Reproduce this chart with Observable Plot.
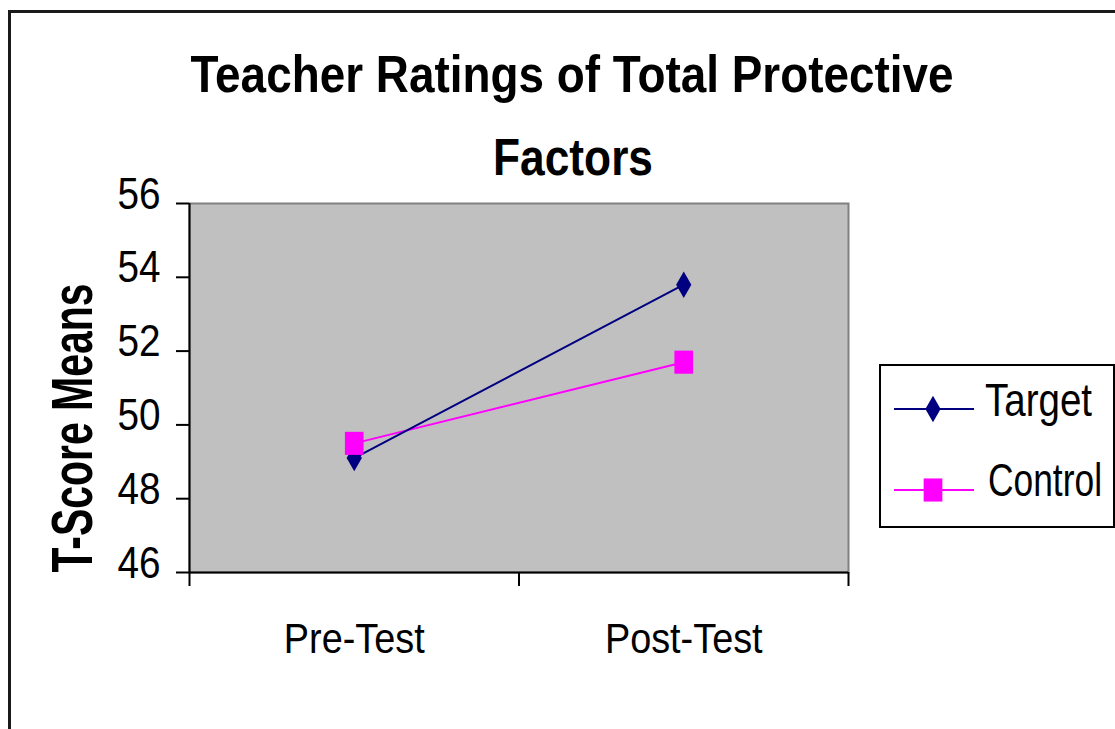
<!DOCTYPE html>
<html><head><meta charset="utf-8">
<script src="https://cdn.jsdelivr.net/npm/d3@7"></script>
<script src="https://cdn.jsdelivr.net/npm/@observablehq/plot@0.6"></script>
<style>
body{margin:0;background:#fff;}
#wrap{position:relative;width:1115px;height:729px;overflow:hidden;background:#fff;font-family:"Liberation Sans",Arial,sans-serif;}
.t{position:absolute;white-space:nowrap;color:#000;}
</style></head><body><div id="wrap"></div>
<script>
// ---- data ----
const titleLines = ["Teacher Ratings of Total Protective", "Factors"];
const yLabel = "T-Score Means";
const categories = ["Pre-Test", "Post-Test"];
const seriesNames = ["Target", "Control"];
const targetValues = [49.1, 53.8];
const controlValues = [49.5, 51.7];
const yTicks = [46, 48, 50, 52, 54, 56];
const seriesColors = ["#000080", "#ff00ff"];

const targetData = categories.map((c, i) => ({series: "Target", cat: c, idx: i, value: targetValues[i]}));
const controlData = categories.map((c, i) => ({series: "Control", cat: c, idx: i, value: controlValues[i]}));

const wrap = document.getElementById("wrap");

// tall rectangle marker like the original
const tallSquare = {draw(ctx, size) {
  const r = Math.sqrt(size / Math.PI);
  const w = r * 1.7, h = r * 2.1;
  ctx.moveTo(-w/2, -h/2); ctx.lineTo(w/2, -h/2); ctx.lineTo(w/2, h/2); ctx.lineTo(-w/2, h/2); ctx.closePath();
}};

const xPos = d => d.idx + 0.5;

const chart = Plot.plot({
  width: 1115, height: 729,
  marginLeft: 189, marginRight: 267, marginTop: 203, marginBottom: 157,
  style: {fontFamily: '"Liberation Sans", Arial, sans-serif', background: "transparent", overflow: "visible", color: "#000"},
  x: {type: "linear", domain: [0, categories.length], axis: null},
  y: {domain: [46, 56], axis: null},
  color: {domain: seriesNames, range: seriesColors},
  marks: [
    Plot.frame({fill: "#c0c0c0", stroke: "#808080", strokeWidth: 2}),
    Plot.axisY({ticks: yTicks, tickSize: 13, tickFormat: () => "", strokeWidth: 2, label: null}),
    Plot.axisY({ticks: yTicks, tickSize: 0, tickPadding: 29, fontSize: 44, dy: -9, label: null}),
    Plot.axisX({ticks: d3.range(categories.length + 1), tickSize: 14, tickFormat: () => "", strokeWidth: 2, label: null}),
    Plot.axisX({ticks: categories.map((c, i) => i + 0.5), tickSize: 0, tickPadding: 50, fontSize: 43, label: null,
      tickFormat: d => categories[Math.round(d - 0.5)]}),
    Plot.ruleX([0], {stroke: "#000", strokeWidth: 2}),
    Plot.ruleY([46], {stroke: "#000", strokeWidth: 2}),
    Plot.line(controlData, {x: xPos, y: "value", stroke: "series", strokeWidth: 2}),
    Plot.line(targetData, {x: xPos, y: "value", stroke: "series", strokeWidth: 2}),
    Plot.dot(targetData, {x: xPos, y: "value", fill: "series", symbol: d3.symbolDiamond, r: 8}),
    Plot.dot(controlData, {x: xPos, y: "value", fill: "series", symbol: tallSquare, r: 11})
  ]
});
wrap.appendChild(chart);

// narrow the glyphs like the original raster font
chart.querySelectorAll("text").forEach(t => {
  const L = t.getComputedTextLength();
  if (L > 0) { t.setAttribute("textLength", L * 0.88); t.setAttribute("lengthAdjust", "spacingAndGlyphs"); }
});

// ---- html text helpers ----
const mctx = document.createElement("canvas").getContext("2d");
function measure(str, font) { mctx.font = font; return mctx.measureText(str).width; }
function addText(str, {x, baseline, fs, weight = "normal", width, anchor = "start"}) {
  const font = `${weight} ${fs}px "Liberation Sans", Arial, sans-serif`;
  const k = width / measure(str, font);
  const el = document.createElement("div");
  el.className = "t"; el.textContent = str;
  el.style.font = font; el.style.lineHeight = fs + "px";
  el.style.top = (baseline - 0.8465 * fs) + "px";
  el.style.left = x + "px";
  if (anchor === "middle") { el.style.transformOrigin = "50% 50%"; el.style.transform = `translateX(-50%) scaleX(${k})`; }
  else { el.style.transformOrigin = "0 0"; el.style.transform = `scaleX(${k})`; }
  wrap.appendChild(el);
  return el;
}

// title
addText(titleLines[0], {x: 571.5, baseline: 92, fs: 52, weight: "bold", width: 763, anchor: "middle"});
addText(titleLines[1], {x: 573, baseline: 175, fs: 52, weight: "bold", width: 160, anchor: "middle"});

// y label (rotated)
(function() {
  const fs = 58;
  const font = `bold ${fs}px "Liberation Sans", Arial, sans-serif`;
  const k = 289 / measure(yLabel, font);
  const el = document.createElement("div");
  el.className = "t"; el.textContent = yLabel;
  el.style.font = font; el.style.lineHeight = fs + "px";
  el.style.left = "72px"; el.style.top = (427.5 - fs / 2) + "px";
  el.style.transformOrigin = "50% 50%";
  el.style.transform = `translateX(-50%) rotate(-90deg) scaleX(${k})`;
  wrap.appendChild(el);
})();

// legend
const legend = document.createElement("div");
Object.assign(legend.style, {position: "absolute", left: "879px", top: "364px", width: "236px", height: "164px",
  border: "2px solid #000", boxSizing: "border-box", background: "#fff"});
wrap.appendChild(legend);
const ls = d3.select(wrap).append("svg")
  .attr("width", 236).attr("height", 164)
  .style("position", "absolute").style("left", "879px").style("top", "364px");
const legendRows = [
  {name: seriesNames[0], color: seriesColors[0], y: 45, sym: d3.symbolDiamond, r: 8, tx: 985, base: 416, w: 107},
  {name: seriesNames[1], color: seriesColors[1], y: 126, sym: tallSquare, r: 11, tx: 988, base: 496, w: 114}
];
legendRows.forEach(row => {
  ls.append("line").attr("x1", 15).attr("x2", 95).attr("y1", row.y).attr("y2", row.y)
    .attr("stroke", row.color).attr("stroke-width", 2);
  ls.append("path").attr("d", d3.symbol(row.sym, Math.PI * row.r * row.r)())
    .attr("transform", `translate(54,${row.y})`).attr("fill", row.color);
  addText(row.name, {x: row.tx, baseline: row.base, fs: 46, width: row.w});
});

// outer chart-area border
const frame = document.createElement("div");
Object.assign(frame.style, {position: "absolute", left: "8px", top: "10px", width: "1300px", height: "900px",
  borderLeft: "3px solid #1a1a1a", borderTop: "3px solid #1a1a1a", pointerEvents: "none"});
wrap.appendChild(frame);
</script>
</body></html>
